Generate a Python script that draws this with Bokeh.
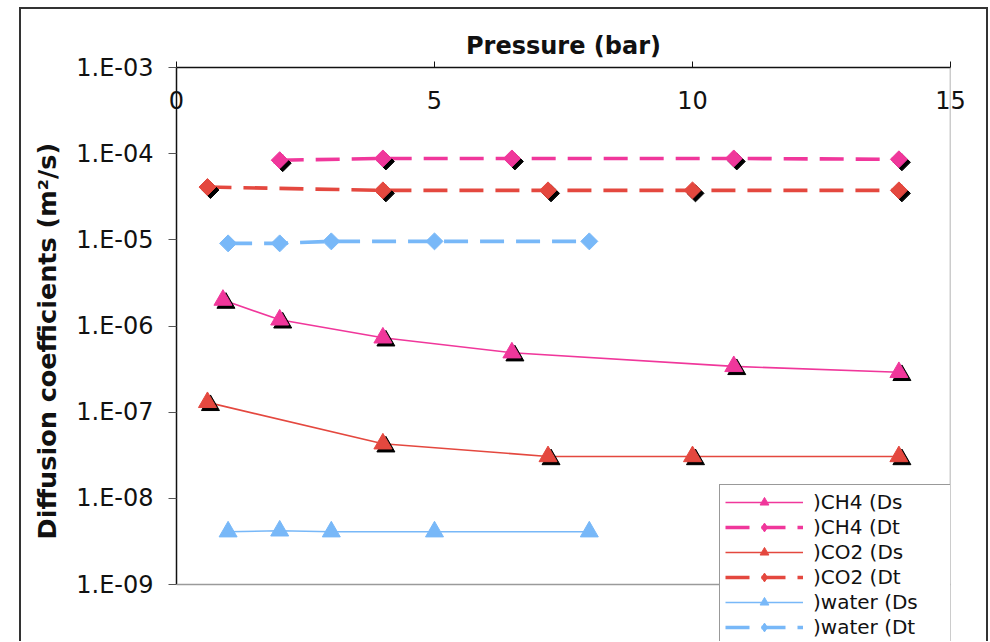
import numpy as np
from bokeh.plotting import figure
from bokeh.models import (Range1d, FixedTicker, CustomJSTickFormatter, Legend, LegendItem,
                          ColumnDataSource, CDSView, IndexFilter, Span)
from bokeh.embed import file_html
from bokeh.resources import INLINE

# ---------------- data ----------------
x_ticks = [0, 5, 10, 15]
x_tick_labels = ["0", "5", "10", "15"]
y_ticks = [1e-9, 1e-8, 1e-7, 1e-6, 1e-5, 1e-4, 1e-3]
y_tick_labels = ["1.E-09", "1.E-08", "1.E-07", "1.E-06", "1.E-05", "1.E-04", "1.E-03"]

ch4_ds_p = [0.9, 2.0, 4.0, 6.5, 10.8, 14.0]
ch4_ds = [2.0e-6, 1.18e-6, 7.3e-7, 4.9e-7, 3.4e-7, 2.9e-7]

ch4_dt_p = [2.0, 4.0, 6.5, 10.8, 14.0]
ch4_dt = [8.4e-5, 8.8e-5, 8.8e-5, 8.8e-5, 8.6e-5]

co2_ds_p = [0.6, 4.0, 7.2, 10.0, 14.0]
co2_ds = [1.3e-7, 4.3e-8, 3.06e-8, 3.06e-8, 3.06e-8]

co2_dt_p = [0.6, 4.0, 7.2, 10.0, 14.0]
co2_dt = [4.1e-5, 3.75e-5, 3.75e-5, 3.75e-5, 3.75e-5]

water_ds_p = [1.0, 2.0, 3.0, 5.0, 8.0]
water_ds = [4.1e-9, 4.2e-9, 4.1e-9, 4.1e-9, 4.1e-9]

water_dt_p = [1.0, 2.0, 3.0, 5.0, 8.0]
water_dt = [9.1e-6, 9.1e-6, 9.6e-6, 9.6e-6, 9.6e-6]

series_names = [")CH4 (Ds", ")CH4 (Dt", ")CO2 (Ds", ")CO2 (Dt", ")water (Ds", ")water (Dt"]

x_min, x_max = 0, 15
y_min, y_max = 1e-9, 1e-3

# ---------------- style ----------------
PINK = "#F0379B"
RED = "#E4483F"
BLUE = "#78B8F8"
FONT = "DejaVu Sans"

H = 634
TOP = 60
AXIS_PX = 517          # pixel height of the 1e-9 .. 1e-3 axis
EXTRA_PX = H - TOP - AXIS_PX   # frame continues below the axis (legend room)
decades = np.log10(y_max) - np.log10(y_min)
y_start = 10 ** (np.log10(y_min) - EXTRA_PX * decades / AXIS_PX)

p = figure(width=969, height=H, margin=(7, 0, 0, 19),
           x_range=Range1d(x_min, x_max), y_range=Range1d(y_start, y_max),
           y_axis_type="log", x_axis_location="above",
           output_backend="svg", toolbar_location=None,
           min_border_left=157, min_border_right=38,
           min_border_top=TOP, min_border_bottom=0)
p.border_fill_color = None
p.background_fill_color = "white"
p.styles = {"box-shadow": "inset 2px 2px 0 0 #333333, inset -2px 0 0 0 #333333",
            "background": "white"}

p.xgrid.visible = False
p.ygrid.visible = False
p.outline_line_color = None

# grey frame edges (bottom at 1e-9, right at 15)
p.add_layout(Span(location=y_min, dimension="width", line_color="#9a9a9a", line_width=1.5))
p.add_layout(Span(location=x_max, dimension="height", line_color="#9a9a9a", line_width=1.5))

xa = p.xaxis[0]
xa.ticker = FixedTicker(ticks=x_ticks)
xa.major_label_overrides = {t: l for t, l in zip(x_ticks, x_tick_labels)}
xa.major_tick_out = 6
xa.major_tick_in = 0
xa.minor_tick_out = 0
xa.minor_tick_in = 0
xa.major_label_standoff = -47
xa.axis_line_color = "#111111"
xa.axis_line_width = 1.5
xa.major_tick_line_color = "#111111"
xa.major_label_text_font = FONT
xa.major_label_text_font_size = "24px"
xa.major_label_text_color = "#111111"
xa.axis_label = "Pressure (bar)"
xa.axis_label_text_font = FONT
xa.axis_label_text_font_style = "bold"
xa.axis_label_text_font_size = "24px"
xa.axis_label_text_color = "#111111"
xa.axis_label_standoff = 28

ya = p.yaxis[0]
ya.bounds = (y_min, y_max)
ya.ticker = FixedTicker(ticks=y_ticks)
ya.formatter = CustomJSTickFormatter(args=dict(tvals=y_ticks, tlabels=y_tick_labels), code="""
const i = tvals.findIndex(t => Math.abs(Math.log10(t) - Math.log10(tick)) < 1e-6);
return i >= 0 ? tlabels[i] : "";
""")
ya.major_tick_out = 8
ya.major_tick_in = 0
ya.minor_tick_out = 0
ya.minor_tick_in = 0
ya.major_label_standoff = 15
ya.axis_line_color = "#111111"
ya.axis_line_width = 1.5
ya.major_tick_line_color = "#555555"
ya.major_label_text_font = FONT
ya.major_label_text_font_size = "24px"
ya.major_label_text_color = "#111111"
# leading no-break spaces nudge the centred label up along the axis
ya.axis_label = "\u00a0\u00a0\u00a0Diffusion coefficients (m\u00b2/s)"
ya.axis_label_text_font = FONT
ya.axis_label_text_font_style = "bold"
ya.axis_label_text_font_size = "25.5px"
ya.axis_label_text_color = "#111111"
ya.axis_label_standoff = 11

# shadow offset in pixels, converted through the scales
SH_PX = 3.0
x_per_px = (x_max - x_min) / 774.0
dec_per_px = decades / AXIS_PX

def shadow(xs, ys):
    return ([x + SH_PX * x_per_px for x in xs],
            [y * 10 ** (-SH_PX * dec_per_px) for y in ys])

series = [
    (ch4_ds_p, ch4_ds, PINK, "ds", True),
    (ch4_dt_p, ch4_dt, PINK, "dt", True),
    (co2_ds_p, co2_ds, RED, "ds", True),
    (co2_dt_p, co2_dt, RED, "dt", True),
    (water_ds_p, water_ds, BLUE, "ds", False),
    (water_dt_p, water_dt, BLUE, "dt", False),
]

items = []
for name, (xs, ys, col, kind, has_shadow) in zip(series_names, series):
    src = ColumnDataSource(dict(x=xs, y=ys))
    if kind == "ds":
        ln = p.line("x", "y", source=src, line_color=col, line_width=1.6)
        mk_kw = dict(marker="triangle", size=18, angle=0)
        leg_kw = dict(marker="triangle", size=12)
    else:
        ln = p.line("x", "y", source=src, line_color=col, line_width=3.6, line_dash="24 12")
        mk_kw = dict(marker="square", size=12, angle=np.pi / 4)
        leg_kw = dict(marker="diamond", size=12)
    # small legend-only marker, hidden under the first real marker
    leg_mk = p.scatter("x", "y", source=src, view=CDSView(filter=IndexFilter(indices=[0])),
                       fill_color=col, line_color=col, **leg_kw)
    if has_shadow:
        sx, sy = shadow(xs, ys)
        p.scatter(sx, sy, fill_color="black", line_color="black", **mk_kw)
    p.scatter("x", "y", source=src, fill_color=col, line_color=col, **mk_kw)
    items.append(LegendItem(label=name, renderers=[ln, leg_mk]))

legend = Legend(items=items, location=(543, -4))
legend.padding = 5
legend.spacing = 1
legend.glyph_width = 78
legend.glyph_height = 22
legend.label_height = 22
legend.label_standoff = 10
legend.label_width = 139
legend.label_text_font = FONT
legend.label_text_font_size = "20px"
legend.label_text_color = "#111111"
legend.border_line_color = "#333333"
legend.border_line_width = 1.2
legend.background_fill_color = "white"
legend.background_fill_alpha = 1.0
legend.margin = 0
p.add_layout(legend, "center")

open("out.html", "w").write(file_html(p, INLINE))
